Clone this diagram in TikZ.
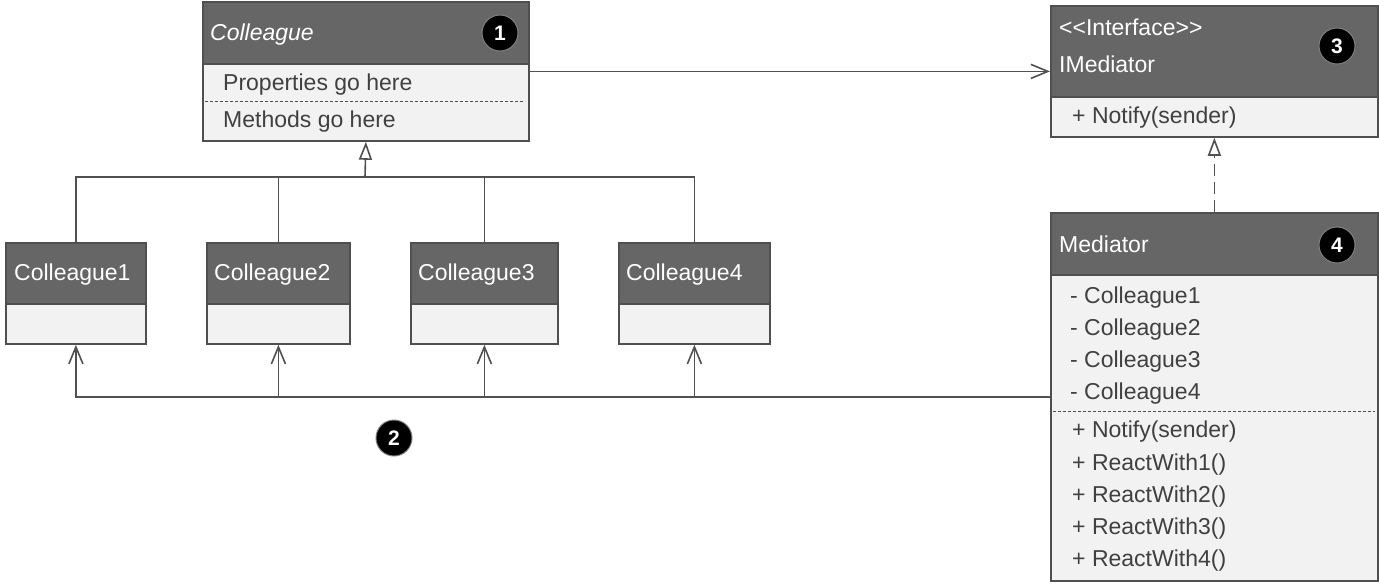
\documentclass[tikz,border=0pt]{standalone}
\usepackage{fontspec}
\setmainfont{Liberation Sans}
\usepackage{tikz}
\usetikzlibrary{arrows.meta, positioning}

\definecolor{headgray}{HTML}{666666}
\definecolor{bodygray}{HTML}{F2F2F2}
\definecolor{bordergray}{HTML}{4F4F4F}
\definecolor{linegray}{HTML}{505050}
\definecolor{textgray}{HTML}{404040}

\begin{document}
\begin{tikzpicture}[x=1pt, y=-1pt, font=\fontsize{23}{27}\selectfont]
        \tikzstyle{classbox} = [rectangle, draw=bordergray, fill=bodygray, line width=1.8pt, inner sep=0pt, anchor=north west]
        \tikzstyle{classhead} = [rectangle, draw=bordergray, fill=headgray, line width=1.8pt, inner sep=0pt, anchor=north west]
        \tikzstyle{headtext} = [anchor=west, inner sep=0pt, text=white, text height=16.5pt, text depth=0pt]
        \tikzstyle{membertext} = [anchor=west, inner sep=0pt, text=textgray, text height=16.5pt, text depth=0pt]
        \tikzstyle{badge} = [circle, fill=black, draw=gray, line width=1pt, minimum size=36pt, inner sep=0pt, text=white, font=\fontsize{21}{21}\selectfont\bfseries]
        \tikzstyle{divider} = [draw=bordergray, line width=1pt, dash pattern=on 3pt off 2pt]
        \tikzstyle{link} = [draw=linegray, line width=1.6pt]
        \tikzstyle{assoc} = [link, -{Straight Barb[length=17pt, width=14pt]}]
        \tikzstyle{inherit} = [link, -{Triangle[open, length=18pt, width=13pt]}]
        \tikzstyle{realize} = [inherit, dash pattern=on 12pt off 6pt]

        \useasboundingbox (0,0) rectangle (1379,586);

        % abstract colleague
        \node (colleague) [classbox, minimum width=326pt, minimum height=139pt] at (202,1) {};
        \node (colleaguehead) [classhead, minimum width=326pt, minimum height=62pt] at (202,1) {};
        \node (colleaguename) [headtext] at (210,32) {\itshape Colleague};
        \node (badge1) [badge] at (500,33) {1};
        \node (props) [membertext] at (223,82) {Properties go here};
        \draw [divider] (205,101) -- (525,101);
        \node (methods) [membertext] at (223,119) {Methods go here};

        % concrete colleagues
        \node (c1) [classbox, minimum width=140pt, minimum height=101pt] at (5,242) {};
        \node (c1head) [classhead, minimum width=140pt, minimum height=61pt] at (5,242) {};
        \node (c1name) [headtext] at (14,272) {Colleague1};
        \node (c2) [classbox, minimum width=143pt, minimum height=101pt] at (206,242) {};
        \node (c2head) [classhead, minimum width=143pt, minimum height=61pt] at (206,242) {};
        \node (c2name) [headtext] at (214,272) {Colleague2};
        \node (c3) [classbox, minimum width=147pt, minimum height=101pt] at (410,242) {};
        \node (c3head) [classhead, minimum width=147pt, minimum height=61pt] at (410,242) {};
        \node (c3name) [headtext] at (418,272) {Colleague3};
        \node (c4) [classbox, minimum width=151pt, minimum height=101pt] at (618,242) {};
        \node (c4head) [classhead, minimum width=151pt, minimum height=61pt] at (618,242) {};
        \node (c4name) [headtext] at (626,272) {Colleague4};

        % interface
        \node (imediator) [classbox, minimum width=327pt, minimum height=131pt] at (1050,5) {};
        \node (imediatorhead) [classhead, minimum width=327pt, minimum height=91pt] at (1050,5) {};
        \node (stereo) [headtext] at (1059,27) {<\kern0pt<Interface>\kern0pt>};
        \node (imediatorname) [headtext] at (1059,64) {IMediator};
        \node (badge3) [badge] at (1337,46) {3};
        \node (inotify) [membertext] at (1072,115) {+ Notify(sender)};

        % mediator
        \node (mediator) [classbox, minimum width=327pt, minimum height=368pt] at (1050,212) {};
        \node (mediatorhead) [classhead, minimum width=327pt, minimum height=62pt] at (1050,212) {};
        \node (mediatorname) [headtext] at (1059,244) {Mediator};
        \node (badge4) [badge] at (1337,245) {4};
        \node (field1) [membertext] at (1070,295) {- Colleague1};
        \node (field2) [membertext] at (1070,327) {- Colleague2};
        \node (field3) [membertext] at (1070,359) {- Colleague3};
        \node (field4) [membertext] at (1070,391) {- Colleague4};
        \draw [divider] (1053,411) -- (1375,411);
        \node (notify) [membertext] at (1072,429) {+ Notify(sender)};
        \node (react1) [membertext] at (1072,462) {+ ReactWith1()};
        \node (react2) [membertext] at (1072,494) {+ ReactWith2()};
        \node (react3) [membertext] at (1072,526) {+ ReactWith3()};
        \node (react4) [membertext] at (1072,558) {+ ReactWith4()};

        \node (badge2) [badge] at (394,438) {2};

        % connectors
        \coordinate (treejoin) at (365,177);
        \draw [link] (c1.north) |- (treejoin) -| (c4.north);
        \draw [link] (c2.north) -- (c2.north |- treejoin);
        \draw [link] (c3.north) -- (c3.north |- treejoin);
        \draw [inherit] (treejoin) -- (colleague.south);
        \draw [assoc] (colleague.east) -- (colleague.east -| imediator.west);
        \draw [realize] (mediator.north) -- (imediator.south);
        \draw [assoc] (mediator.west) -| (c1.south);
        \draw [assoc] (mediator.west) -| (c2.south);
        \draw [assoc] (mediator.west) -| (c3.south);
        \draw [assoc] (mediator.west) -| (c4.south);
    \end{tikzpicture}
\end{document}
